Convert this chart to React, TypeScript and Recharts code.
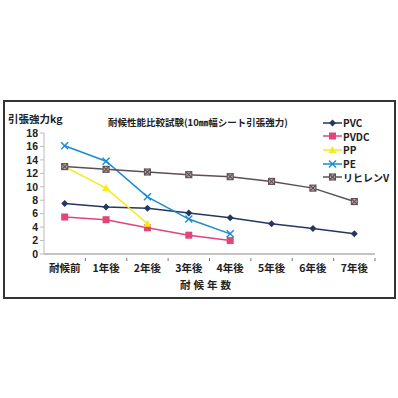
import { LineChart, Line, XAxis, YAxis } from 'recharts'

const years = ['耐候前', '1年後', '2年後', '3年後', '4年後', '5年後', '6年後', '7年後']
const pvc = [7.5, 7.0, 6.8, 6.1, 5.4, 4.5, 3.8, 3.0]
const pvdc = [5.5, 5.1, 3.9, 2.8, 2.0, null, null, null]
const pp = [13.0, 9.8, 4.5, null, null, null, null, null]
const pe = [16.1, 13.8, 8.5, 5.2, 3.0, null, null, null]
const rihiren = [13.0, 12.6, 12.2, 11.8, 11.5, 10.8, 9.8, 7.8]
const yTicks = [0, 2, 4, 6, 8, 10, 12, 14, 16, 18]

const chartData = years.map((year, i) => ({
  year,
  pvc: pvc[i],
  pvdc: pvdc[i],
  pp: pp[i],
  pe: pe[i],
  rihiren: rihiren[i],
}))

const FONT = '"Noto Sans CJK JP", "Noto Sans", sans-serif'
const NUM_FONT = '"Liberation Sans", Arial, sans-serif'

type Shape = 'diamond' | 'square' | 'triangle' | 'cross' | 'boxcross'

function Marker({ cx, cy, shape, color }: { cx: number; cy: number; shape: Shape; color: string }) {
  if (cx == null || cy == null) return null
  switch (shape) {
    case 'diamond':
      return <polygon points={`${cx},${cy - 3.5} ${cx + 3.5},${cy} ${cx},${cy + 3.5} ${cx - 3.5},${cy}`} fill={color} />
    case 'square':
      return <rect x={cx - 3.5} y={cy - 3.5} width={7} height={7} fill={color} />
    case 'triangle':
      return <polygon points={`${cx},${cy - 4} ${cx + 4},${cy + 3} ${cx - 4},${cy + 3}`} fill={color} />
    case 'cross':
      return (
        <g stroke={color} strokeWidth={1.4}>
          <line x1={cx - 3.5} y1={cy - 3.5} x2={cx + 3.5} y2={cy + 3.5} />
          <line x1={cx - 3.5} y1={cy + 3.5} x2={cx + 3.5} y2={cy - 3.5} />
        </g>
      )
    default:
      return (
        <g stroke={color} strokeWidth={1.1}>
          <rect x={cx - 3} y={cy - 3} width={6} height={6} fill="#b5aaae" />
          <line x1={cx - 3} y1={cy - 3} x2={cx + 3} y2={cy + 3} />
          <line x1={cx - 3} y1={cy + 3} x2={cx + 3} y2={cy - 3} />
        </g>
      )
  }
}

const series: { key: string; name: string; color: string; shape: Shape }[] = [
  { key: 'pvc', name: 'PVC', color: '#24385e', shape: 'diamond' },
  { key: 'pvdc', name: 'PVDC', color: '#e0457b', shape: 'square' },
  { key: 'pp', name: 'PP', color: '#f5eb1a', shape: 'triangle' },
  { key: 'pe', name: 'PE', color: '#1b8bd0', shape: 'cross' },
  { key: 'rihiren', name: 'リヒレンV', color: '#5e4f54', shape: 'boxcross' },
]

const PLOT_LEFT = 44
const PLOT_RIGHT = 23
const BAND = (398 - PLOT_LEFT - PLOT_RIGHT) / years.length

function XTick(props: any) {
  const { x, y, payload } = props
  return (
    <g>
      <line x1={x + BAND / 2} y1={y - 4} x2={x + BAND / 2} y2={y - 1} stroke="#777" />
      <text x={x} y={y + 10} textAnchor="middle" fontSize={10.5} fontWeight={700} fill="#222" fontFamily={FONT}>
        {payload.value}
      </text>
    </g>
  )
}

function LegendBox() {
  return (
    <div style={{ position: 'absolute', left: 323, top: 116, fontFamily: FONT, fontSize: 10, fontWeight: 700, color: '#222' }}>
      {series.map((s) => (
        <div key={s.key} style={{ display: 'flex', alignItems: 'center', height: 13.6, whiteSpace: 'nowrap' }}>
          <svg width={19} height={10}>
            <line x1={0} y1={5} x2={19} y2={5} stroke={s.color} strokeWidth={1.5} />
            <Marker cx={9.5} cy={5} shape={s.shape} color={s.color} />
          </svg>
          <span style={{ marginLeft: 1 }}>{s.name}</span>
        </div>
      ))}
    </div>
  )
}

export default function App() {
  return (
    <div style={{ position: 'fixed', left: 0, top: 0, width: 398, height: 398, background: '#fff' }}>
      <div style={{ position: 'absolute', left: 3, top: 100, width: 389, height: 195, border: '2px solid #333' }} />
      <div style={{ position: 'absolute', left: 8, top: 111, fontFamily: FONT, fontSize: 10.5, fontWeight: 700, color: '#222' }}>
        引張強力kg
      </div>
      <div style={{ position: 'absolute', left: 108, top: 115, fontFamily: FONT, fontSize: 9.5, fontWeight: 700, color: '#222', whiteSpace: 'nowrap' }}>
        耐候性能比較試験(10㎜幅シート引張強力)
      </div>
      <div style={{ position: 'absolute', left: 0, width: 398, top: 277, textAlign: 'center', paddingLeft: 16, boxSizing: 'border-box', fontFamily: FONT, fontSize: 10.5, fontWeight: 700, color: '#222', letterSpacing: 3 }}>
        耐候年数
      </div>
      <LineChart width={398} height={398} data={chartData} margin={{ top: 133, right: PLOT_RIGHT, bottom: 114, left: 0 }}>
        <XAxis
          dataKey="year"
          scale="band"
          stroke="#888"
          tickLine={false}
          tick={<XTick />}
          interval={0}
          height={30}
        />
        <YAxis
          domain={[0, 18]}
          ticks={yTicks}
          width={PLOT_LEFT}
          stroke="#bbb"
          tickSize={4}
          tick={{ fontSize: 10.5, fontWeight: 700, fill: '#222', fontFamily: NUM_FONT }}
          interval={0}
        />
        {series.map((s) => (
          <Line
            key={s.key}
            dataKey={s.key}
            name={s.name}
            stroke={s.color}
            strokeWidth={1.5}
            isAnimationActive={false}
            connectNulls={false}
            dot={(p: any) => <Marker key={`${s.key}-${p.index}`} cx={p.cx} cy={p.cy} shape={s.shape} color={s.color} />}
            activeDot={false}
          />
        ))}
      </LineChart>
      <LegendBox />
    </div>
  )
}
